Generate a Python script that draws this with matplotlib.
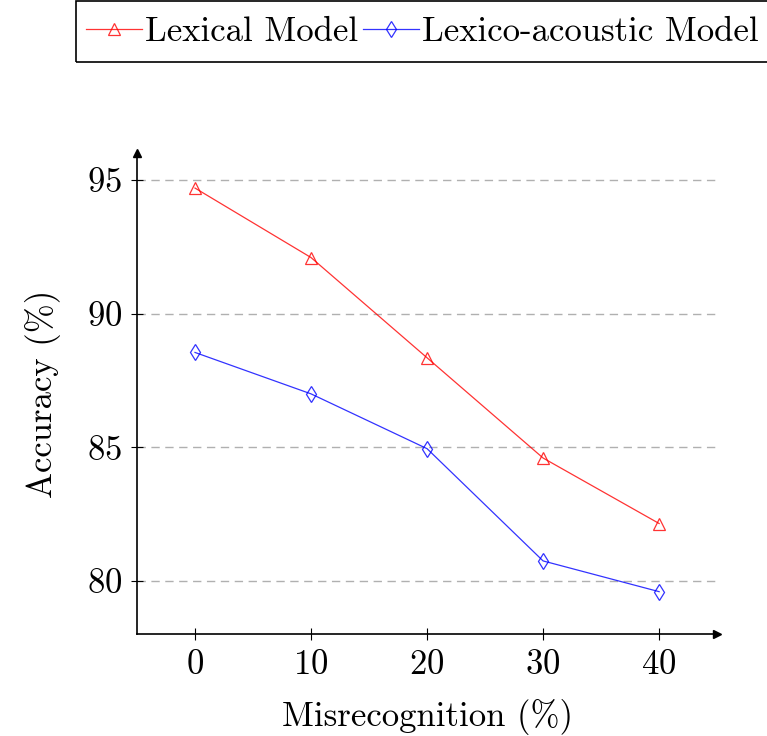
import matplotlib
matplotlib.use('Agg')
import matplotlib.pyplot as plt
from matplotlib.patches import Rectangle

plt.rcParams['font.family'] = ['cmr10', 'DejaVu Serif']
plt.rcParams['axes.formatter.use_mathtext'] = True
plt.rcParams['mathtext.fontset'] = 'cm'

# data
misrecognition = [0, 10, 20, 30, 40]
lexical = [94.7, 92.1, 88.35, 84.6, 82.15]
lexico_acoustic = [88.55, 87.0, 84.95, 80.75, 79.6]
labels = ['Lexical Model', 'Lexico-acoustic Model']

W, H = 767, 736
fig = plt.figure(figsize=(W / 100, H / 100), dpi=100)
ax = fig.add_axes([0.1786, 0.138, 0.7564, 0.6537])

ax.plot(misrecognition, lexical, color='red', lw=0.9, marker='^', ms=8,
        mfc='none', mec='red', mew=0.9, alpha=0.8, label=labels[0])
ax.plot(misrecognition, lexico_acoustic, color='blue', lw=0.9, marker='d', ms=8,
        mfc='none', mec='blue', mew=0.9, alpha=0.8, label=labels[1])

ax.set_xlim(-5, 45)
ax.set_ylim(78, 96)
ax.set_xticks([0, 10, 20, 30, 40])
ax.set_yticks([80, 85, 90, 95])
ax.yaxis.grid(True, color='#b0b0b0', ls=(0, (6, 4)), lw=1)
ax.set_axisbelow(True)

for s in ['top', 'right']:
    ax.spines[s].set_visible(False)
for s in ['left', 'bottom']:
    ax.spines[s].set_linewidth(1.2)

# arrow heads on the axes
ax.plot(1, 0, '>k', ms=6, transform=ax.transAxes, clip_on=False)
ax.plot(0, 1, '^k', ms=6, transform=ax.transAxes, clip_on=False)

ax.tick_params(direction='inout', length=9, width=0.8, labelsize=25, pad=6)
ax.set_xlabel('Misrecognition (%)', fontsize=25, labelpad=13)
ax.set_ylabel('Accuracy (%)', fontsize=25, labelpad=19)

# legend: entries without frame, box drawn separately (it runs off the right edge)
leg = fig.legend(loc='center left', bbox_to_anchor=(86 / W, 1 - 32 / H), ncol=2,
                 fontsize=25, frameon=False,
                 handlelength=1.6, handletextpad=0.1, columnspacing=0.15,
                 borderpad=0, borderaxespad=0)
fig.patches.append(Rectangle((76 / W, 1 - 62 / H), 1.0, 62 / H - 1 / H,
                             transform=fig.transFigure, fill=False,
                             edgecolor='black', lw=1.2))

fig.savefig('out.png', dpi=100)
